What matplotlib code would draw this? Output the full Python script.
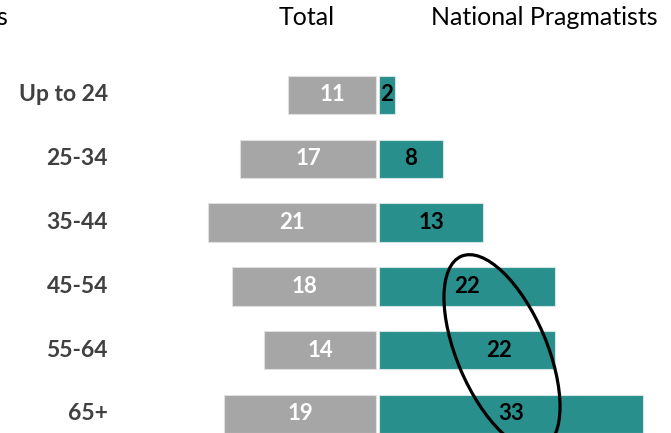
import numpy as np
import matplotlib.pyplot as plt
from matplotlib.patches import Ellipse
from matplotlib.transforms import IdentityTransform

plt.rcParams['font.family'] = ['Lato', 'DejaVu Sans']

# === Data ===
age_groups = ["Up to 24", "25-34", "35-44", "45-54", "55-64", "65+"]
total = [11, 17, 21, 18, 14, 19]
national_pragmatists = [2, 8, 13, 22, 22, 33]
np_label_shift = [0, 0, 0, 0, 4, 0]  # label nudges as in the original

grey = "#A6A6A6"
teal = "#288F8C"
gap = 0.19

fig = plt.figure(figsize=(6.71, 4.33), dpi=100)
ax = fig.add_axes([0, 0, 1, 1])
y = np.arange(len(age_groups))

ax.barh(y, [-v for v in total], left=-gap, height=0.6, color=grey,
        edgecolor="#E0E0E0", linewidth=0.8)
ax.barh(y, national_pragmatists, left=gap, height=0.6, color=teal,
        edgecolor="#CFE6E5", linewidth=0.8)

for i, v in enumerate(total):
    ax.text(-gap - v / 2, i, str(v), ha="center", va="center",
            color="white", fontsize=16, fontweight="bold")
for i, v in enumerate(national_pragmatists):
    ax.text(gap + v / 2 + np_label_shift[i], i, str(v), ha="center", va="center",
            color="black", fontsize=16, fontweight="bold")
for i, name in enumerate(age_groups):
    ax.text(-33.7, i, name, ha="right", va="center",
            color="#404040", fontsize=16.5, fontweight="bold")

ax.text(-8.8, -1.21, "Total", ha="center", va="center", fontsize=18)
ax.text(20.9, -1.21, "National Pragmatists", ha="center", va="center", fontsize=18)
ax.text(-46.3, -1.21, "s", ha="right", va="center", fontsize=18)

ax.set_xlim(-47.19, 36.69)
ax.set_ylim(5.298, -1.489)
ax.axis("off")

# hand-drawn style highlight ring (figure pixel coords)
ring = Ellipse((502, 433 - 352), width=90, height=208, angle=23,
               transform=IdentityTransform(), fill=False,
               edgecolor="black", linewidth=2.3)
fig.patches.append(ring)

fig.savefig("out.png", dpi=100)
